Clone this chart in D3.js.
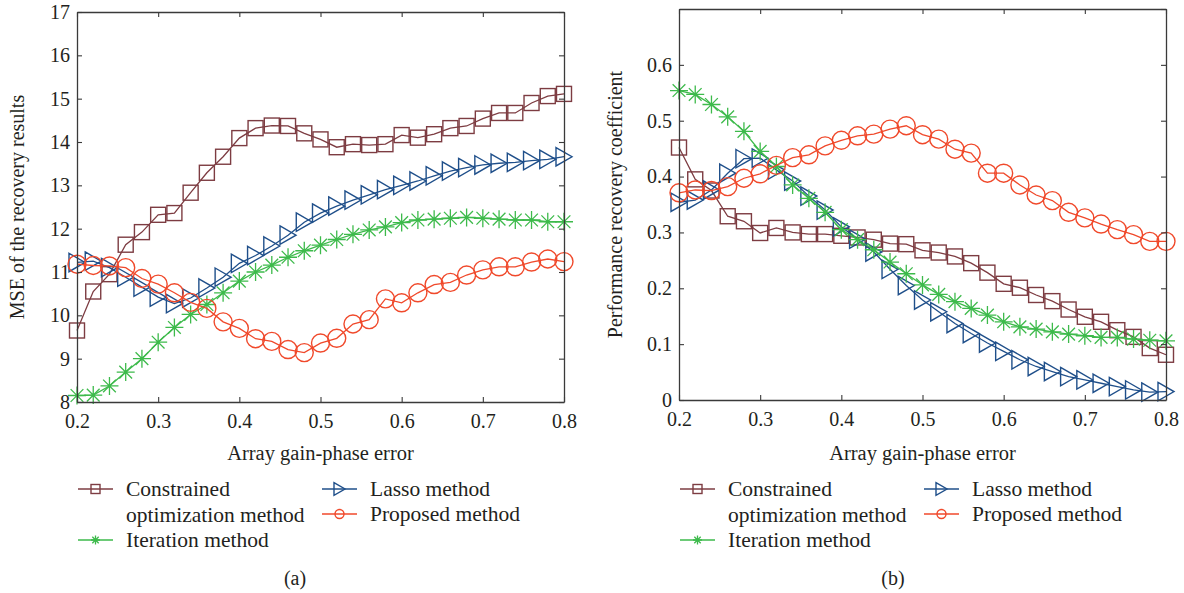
<!DOCTYPE html>
<html>
<head>
<meta charset="utf-8">
<script src="https://cdn.jsdelivr.net/npm/d3@7"></script>
<style>
body { margin: 0; background: #fff; }
svg { display: block; font-family: "Liberation Serif", "DejaVu Serif", serif; }
</style>
</head>
<body>
<script>
var w = 1184;
var h = 593;

var errors = [0.20, 0.22, 0.24, 0.26, 0.28, 0.30, 0.32, 0.34, 0.36, 0.38, 0.40,
    0.42, 0.44, 0.46, 0.48, 0.50, 0.52, 0.54, 0.56, 0.58, 0.60,
    0.62, 0.64, 0.66, 0.68, 0.70, 0.72, 0.74, 0.76, 0.78, 0.80];

// panel (a): MSE
var constrainedA = [9.65, 10.55, 10.95, 11.63, 11.92, 12.32, 12.36, 12.83, 13.29, 13.66, 14.09,
    14.32, 14.38, 14.37, 14.2, 14.06, 13.88, 13.95, 13.93, 13.95, 14.16,
    14.1, 14.18, 14.32, 14.37, 14.54, 14.67, 14.67, 14.9, 15.06, 15.11];
var lassoA = [11.22, 11.25, 11.1, 10.88, 10.65, 10.42, 10.27, 10.4, 10.63, 10.88, 11.2,
    11.38, 11.6, 11.85, 12.15, 12.36, 12.52, 12.66, 12.78, 12.9, 13.0,
    13.1, 13.22, 13.33, 13.41, 13.47, 13.51, 13.53, 13.57, 13.6, 13.66];
var iterationA = [8.15, 8.16, 8.37, 8.69, 9.0, 9.38, 9.72, 10.02, 10.25, 10.52, 10.79,
    11.0, 11.16, 11.34, 11.49, 11.62, 11.75, 11.87, 11.97, 12.04, 12.14,
    12.2, 12.22, 12.24, 12.26, 12.24, 12.22, 12.2, 12.2, 12.16, 12.16];
var proposedA = [11.18, 11.15, 11.14, 11.1, 10.85, 10.72, 10.52, 10.3, 10.16, 9.85, 9.7,
    9.46, 9.4, 9.21, 9.14, 9.36, 9.47, 9.8, 9.9, 10.38, 10.29,
    10.52, 10.71, 10.76, 10.93, 11.05, 11.12, 11.12, 11.23, 11.3, 11.24];

// panel (b): performance recovery coefficient
var constrainedB = [0.452, 0.395, 0.375, 0.329, 0.32, 0.299, 0.308, 0.3, 0.297, 0.297, 0.294,
    0.291, 0.287, 0.28, 0.279, 0.268, 0.264, 0.257, 0.245, 0.228, 0.208,
    0.201, 0.188, 0.177, 0.162, 0.149, 0.14, 0.125, 0.113, 0.093, 0.081];
var lassoB = [0.354, 0.358, 0.376, 0.406, 0.432, 0.433, 0.412, 0.392, 0.365, 0.34, 0.31,
    0.288, 0.265, 0.234, 0.205, 0.179, 0.158, 0.137, 0.119, 0.102, 0.087,
    0.072, 0.06, 0.051, 0.042, 0.036, 0.03, 0.024, 0.018, 0.014, 0.015];
var iterationB = [0.554, 0.547, 0.529, 0.507, 0.481, 0.445, 0.418, 0.385, 0.361, 0.336, 0.305,
    0.287, 0.269, 0.247, 0.226, 0.206, 0.189, 0.176, 0.164, 0.152, 0.14,
    0.131, 0.127, 0.122, 0.118, 0.115, 0.112, 0.112, 0.109, 0.107, 0.106];
var proposedB = [0.371, 0.376, 0.375, 0.382, 0.397, 0.405, 0.42, 0.434, 0.439, 0.455, 0.465,
    0.473, 0.476, 0.485, 0.491, 0.475, 0.467, 0.449, 0.442, 0.406, 0.406,
    0.385, 0.367, 0.357, 0.336, 0.326, 0.315, 0.305, 0.296, 0.284, 0.284];

var xTicks = [0.2, 0.3, 0.4, 0.5, 0.6, 0.7, 0.8];
var yTicksA = [8, 9, 10, 11, 12, 13, 14, 15, 16, 17];
var yTicksB = [0, 0.1, 0.2, 0.3, 0.4, 0.5, 0.6];
var yTicksBox = [0, 0.1, 0.2, 0.3, 0.4, 0.5, 0.6, 0.7];

var colors = {
    constrained: "#7d3c42",
    lasso: "#1f4f8a",
    iteration: "#3dba4b",
    proposed: "#f0492b"
};
var ink = "#231f20";

var svg = d3.select("body").append("svg").attr("width", w).attr("height", h);

function marker(g, type, size, color) {
    if (type == "square") {
        g.append("rect").attr("x", -size / 2).attr("y", -size / 2)
            .attr("width", size).attr("height", size)
            .style("fill", "none").style("stroke", color).style("stroke-width", 1.4);
    } else if (type == "circle") {
        g.append("circle").attr("r", size / 2)
            .style("fill", "none").style("stroke", color).style("stroke-width", 1.4);
    } else if (type == "triangle") {
        var a = size / 2;
        g.append("path").attr("d", "M" + (-a) + "," + (-a * 1.15) + "L" + a + ",0L" + (-a) + "," + (a * 1.15) + "Z")
            .style("fill", "none").style("stroke", color).style("stroke-width", 1.4);
    } else {
        var r = size / 2, d = r * 0.7071;
        g.append("path")
            .attr("d", "M" + (-r) + ",0L" + r + ",0M0," + (-r) + "L0," + r +
                "M" + (-d) + "," + (-d) + "L" + d + "," + d + "M" + (-d) + "," + d + "L" + d + "," + (-d))
            .style("fill", "none").style("stroke", color).style("stroke-width", 1.3);
    }
}

function panel(opt) {
    var x = d3.scaleLinear().domain([0.2, 0.8]).range([opt.left, opt.right]);
    var y = d3.scaleLinear().domain(opt.ydomain).range([opt.bottom, opt.top]);
    var g = svg.append("g");

    var series = [
        { key: "constrained", values: opt.constrained, type: "square", size: 15 },
        { key: "lasso", values: opt.lasso, type: "triangle", size: 16 },
        { key: "iteration", values: opt.iteration, type: "star", size: 18 },
        { key: "proposed", values: opt.proposed, type: "circle", size: 18 }
    ];

    var line = d3.line()
        .x(function (d, i) { return x(errors[i]); })
        .y(function (d) { return y(d); });

    series.forEach(function (s) {
        g.append("path").datum(s.values).attr("d", line)
            .style("fill", "none").style("stroke", colors[s.key]).style("stroke-width", 1.3);
        g.selectAll(".m-" + s.key)
            .data(s.values)
            .enter()
            .append("g")
            .attr("transform", function (d, i) { return "translate(" + x(errors[i]) + "," + y(d) + ")"; })
            .each(function () { marker(d3.select(this), s.type, s.size, colors[s.key]); });
    });

    // box axes with inward ticks
    var bottomAxis = d3.axisBottom(x).tickValues(xTicks).tickSizeInner(-5).tickSizeOuter(0).tickPadding(12)
        .tickFormat(d3.format(".1f"));
    var topAxis = d3.axisTop(x).tickValues(xTicks).tickSizeInner(-5).tickSizeOuter(0).tickFormat("");
    var leftAxis = d3.axisLeft(y).tickValues(opt.yticks).tickSizeInner(-5).tickSizeOuter(0).tickPadding(7)
        .tickFormat(opt.yformat);
    var rightAxis = d3.axisRight(y).tickValues(opt.yboxticks).tickSizeInner(-5).tickSizeOuter(0).tickFormat("");

    var gb = g.append("g").attr("transform", "translate(0," + opt.bottom + ")").call(bottomAxis);
    var gt = g.append("g").attr("transform", "translate(0," + opt.top + ")").call(topAxis);
    var gl = g.append("g").attr("transform", "translate(" + opt.left + ",0)").call(leftAxis);
    var gr = g.append("g").attr("transform", "translate(" + opt.right + ",0)").call(rightAxis);
    [gb, gt, gl, gr].forEach(function (a) {
        a.select(".domain").style("stroke", "#3a3a3a").style("stroke-width", 1.3);
        a.selectAll(".tick line").style("stroke", "#3a3a3a").style("stroke-width", 1.1);
        a.selectAll("text").style("font-family", "Liberation Serif").style("font-size", "20px").style("fill", ink);
    });

    g.append("text")
        .attr("x", (opt.left + opt.right) / 2).attr("y", 460)
        .attr("text-anchor", "middle")
        .style("font-size", "20.5px").style("fill", ink)
        .text("Array gain-phase error");

    g.append("text")
        .attr("transform", "translate(" + opt.ylabelX + "," + ((opt.top + opt.bottom) / 2) + ") rotate(-90)")
        .attr("text-anchor", "middle")
        .style("font-size", "20px").style("fill", ink)
        .text(opt.ylabel);

    // legend
    var legend = [
        { key: "constrained", type: "square", x: opt.legendX, y: 489, lines: ["Constrained", "optimization method"] },
        { key: "iteration", type: "star", x: opt.legendX, y: 540, lines: ["Iteration method"] },
        { key: "lasso", type: "triangle", x: opt.legendX2, y: 489, lines: ["Lasso method"] },
        { key: "proposed", type: "circle", x: opt.legendX2, y: 514, lines: ["Proposed method"] }
    ];
    legend.forEach(function (l) {
        var lg = g.append("g");
        lg.append("line").attr("x1", l.x).attr("x2", l.x + 35).attr("y1", l.y).attr("y2", l.y)
            .style("stroke", colors[l.key]).style("stroke-width", 1.3);
        var mg = lg.append("g").attr("transform", "translate(" + (l.x + 17.5) + "," + l.y + ")");
        marker(mg, l.type, l.type == "triangle" ? 11 : 9, colors[l.key]);
        l.lines.forEach(function (t, i) {
            lg.append("text").attr("x", l.x + 48).attr("y", l.y + 7 + i * 26)
                .style("font-size", "21.5px").style("fill", ink).text(t);
        });
    });

    g.append("text")
        .attr("x", opt.captionX).attr("y", 585)
        .attr("text-anchor", "middle")
        .style("font-size", "20px").style("fill", ink)
        .text(opt.caption);
}

panel({
    left: 77, right: 564, top: 12, bottom: 402,
    ydomain: [8, 17], yticks: yTicksA, yboxticks: yTicksA,
    yformat: d3.format("d"),
    ylabel: "MSE of the recovery results", ylabelX: 24,
    constrained: constrainedA, lasso: lassoA, iteration: iterationA, proposed: proposedA,
    legendX: 78, legendX2: 322, captionX: 295, caption: "(a)"
});

panel({
    left: 679, right: 1166, top: 9, bottom: 400,
    ydomain: [0, 0.7], yticks: yTicksB, yboxticks: yTicksBox,
    yformat: function (d) { return d === 0 ? "0" : d3.format(".1f")(d); },
    ylabel: "Performance recovery coefficient", ylabelX: 622,
    constrained: constrainedB, lasso: lassoB, iteration: iterationB, proposed: proposedB,
    legendX: 680, legendX2: 924, captionX: 893, caption: "(b)"
});
</script>
</body>
</html>
